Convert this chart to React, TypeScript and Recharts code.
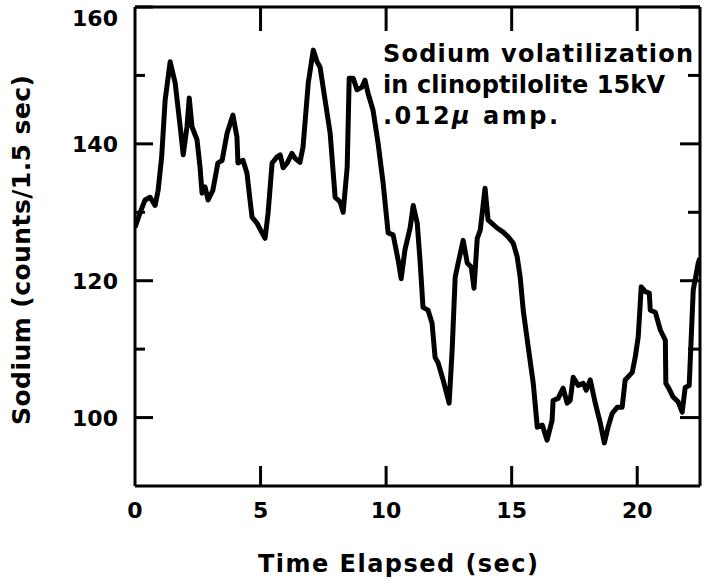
import React from 'react';
import { LineChart, Line, XAxis, YAxis } from 'recharts';

// trace
const times = [
  0, 0.2, 0.4, 0.6, 0.8, 0.92, 1.06, 1.2, 1.4, 1.6, 1.8, 1.92, 2.07, 2.16, 2.27, 2.47, 2.59, 2.67, 2.79, 2.91,
  3.1, 3.3, 3.47, 3.67, 3.9, 4.06, 4.1, 4.3, 4.46, 4.58, 4.66, 4.86, 5.06, 5.18, 5.3, 5.46, 5.66, 5.78, 5.9, 6.06,
  6.25, 6.37, 6.57, 6.69, 6.78, 6.9, 7.1, 7.25, 7.37, 7.57, 7.77, 7.97, 8.17, 8.29, 8.45, 8.53, 8.69, 8.84, 9.04, 9.16,
  9.28, 9.48, 9.68, 9.88, 10.08, 10.28, 10.48, 10.6, 10.75, 10.96, 11.08, 11.24, 11.35, 11.47, 11.67, 11.83, 11.95, 12.07, 12.27, 12.51,
  12.63, 12.75, 12.87, 13.07, 13.23, 13.39, 13.5, 13.63, 13.75, 13.94, 14.06, 14.42, 14.66, 14.86, 15.06, 15.22, 15.34, 15.46, 15.66, 15.86,
  16.02, 16.22, 16.41, 16.61, 16.65, 16.85, 17.05, 17.21, 17.33, 17.45, 17.65, 17.85, 17.97, 18.13, 18.33, 18.53, 18.69, 18.84, 19.0, 19.2,
  19.4, 19.52, 19.8, 19.92, 20.04, 20.16, 20.32, 20.48, 20.52, 20.72, 20.92, 21.12, 21.14, 21.24, 21.43, 21.63, 21.79, 21.91, 22.07, 22.23,
  22.43, 22.5,
];
const sodium = [
  127.8, 129.9, 131.8, 132.2, 131, 133.2, 138, 146.4, 152, 148.9, 142.5, 138.4, 142.5, 146.7, 142.5, 140.6, 136.6, 132.8, 133.7, 131.8,
  133.2, 137.2, 137.6, 141.6, 144.2, 141, 137.2, 137.6, 135.7, 131.8, 129.3, 128.4, 127, 126.2, 129.9, 137.2, 138.1, 138.4, 136.5, 137.2,
  138.6, 137.9, 137.3, 139.5, 143.5, 148.9, 153.7, 152, 151.2, 146.4, 141.6, 132.2, 131.5, 130, 136.6, 149.6, 149.6, 147.9, 148.3, 149.3,
  147.4, 144.9, 140.1, 134.3, 127, 126.7, 123, 120.3, 124.5, 127.8, 131, 128.4, 123, 116.1, 115.7, 113.8, 108.8, 108, 105.5, 102.1,
  109.9, 120.5, 122.6, 125.9, 122.6, 122, 118.9, 126.2, 127.4, 133.5, 128.9, 127.7, 127.1, 126.4, 125.5, 123.5, 120.5, 115.7, 110.3, 105,
  98.6, 98.9, 96.7, 99.6, 102.5, 102.8, 104.3, 102.1, 102.5, 105.9, 104.7, 105, 104, 105.5, 102.1, 99.2, 96.3, 98.6, 100.6, 101.5,
  101.5, 105.5, 106.6, 108.8, 111.8, 119.1, 118.4, 118.2, 115.7, 115.4, 112.8, 111.3, 105, 104.4, 103, 102.3, 100.8, 104.4, 104.7, 118.6,
  122.6, 123.3,
];

const xTicks = [0, 5, 10, 15, 20];
const yTicks = [100, 110, 120, 130, 140, 150, 160];
const yLabeled = [100, 120, 140, 160];

const data = times.map((t, i) => ({ t, na: sodium[i] }));

const FONT = '"DejaVu Sans", sans-serif';

const BottomTick = (props: any) => {
  const { x, y, payload } = props;
  return (
    <g>
      {payload.value > 0 && <line x1={x} x2={x} y1={y} y2={y - 20} stroke="#000" strokeWidth={3} />}
      <text x={x} y={y + 32} textAnchor="middle" fontFamily={FONT} fontWeight="bold" fontSize={22} fill="#000">
        {payload.value}
      </text>
    </g>
  );
};

const TopTick = (props: any) => {
  const { x, y, payload } = props;
  if (payload.value === 0) return <g />;
  return <line x1={x} x2={x} y1={y} y2={y + 24} stroke="#000" strokeWidth={3} />;
};

const LeftTick = (props: any) => {
  const { x, y, payload } = props;
  const major = yLabeled.includes(payload.value);
  return (
    <g>
      <line x1={x} x2={x + (major ? 18 : 10)} y1={y} y2={y} stroke="#000" strokeWidth={3} />
      {major && (
        <text x={x - 17} y={y + (payload.value === 160 ? 19 : 8)} textAnchor="end" fontFamily={FONT} fontWeight="bold" fontSize={22} fill="#000">
          {payload.value}
        </text>
      )}
    </g>
  );
};

const RightTick = (props: any) => {
  const { x, y, payload } = props;
  const major = yLabeled.includes(payload.value);
  return <line x1={x} x2={x - (major ? 20 : 12)} y1={y} y2={y} stroke="#000" strokeWidth={3} />;
};

export default function App() {
  return (
    <div style={{ position: 'absolute', left: 0, top: 0, width: 704, height: 585, background: '#fff' }}>
      <LineChart width={704} height={585} data={data} margin={{ top: 6, right: 3, bottom: 98, left: 134 }}>
        <XAxis
          xAxisId="b" dataKey="t" type="number" domain={[0, 22.5]} ticks={xTicks} allowDataOverflow
          height={1} tickSize={0} tickMargin={0} tickLine={false} interval={0}
          axisLine={{ stroke: '#000', strokeWidth: 3 }} tick={BottomTick}
        />
        <XAxis
          xAxisId="t" orientation="top" dataKey="t" type="number" domain={[0, 22.5]} ticks={xTicks} allowDataOverflow
          height={1} tickSize={0} tickMargin={0} tickLine={false} interval={0}
          axisLine={{ stroke: '#000', strokeWidth: 3 }} tick={TopTick}
        />
        <YAxis
          yAxisId="l" type="number" domain={[90, 160]} ticks={yTicks} allowDataOverflow
          width={1} tickSize={0} tickMargin={0} tickLine={false} interval={0}
          axisLine={{ stroke: '#000', strokeWidth: 3 }} tick={LeftTick}
        />
        <YAxis
          yAxisId="r" orientation="right" type="number" domain={[90, 160]} ticks={yTicks} allowDataOverflow
          width={1} tickSize={0} tickMargin={0} tickLine={false} interval={0}
          axisLine={{ stroke: '#000', strokeWidth: 3 }} tick={RightTick}
        />
        <Line
          xAxisId="b" yAxisId="l" dataKey="na" type="linear" stroke="#000" strokeWidth={5}
          strokeLinejoin="round" dot={false} isAnimationActive={false}
        />
      </LineChart>
      <svg width={704} height={585} style={{ position: 'absolute', left: 0, top: 0, pointerEvents: 'none' }}>
        <g fontFamily={FONT} fontWeight="bold" fill="#000">
          <text x={383} y={62} fontSize={24} textLength={310}>Sodium volatilization</text>
          <text x={383} y={93} fontSize={24} textLength={282}>in clinoptilolite 15kV</text>
          <text x={383} y={124} fontSize={24} textLength={175}>.012<tspan fontStyle="italic">μ</tspan> amp.</text>
          <text x={398} y={572} fontSize={24} textAnchor="middle" textLength={280}>Time Elapsed (sec)</text>
          <text transform="translate(30,250) rotate(-90)" fontSize={25} textAnchor="middle" textLength={350}>Sodium (counts/1.5 sec)</text>
        </g>
      </svg>
    </div>
  );
}
